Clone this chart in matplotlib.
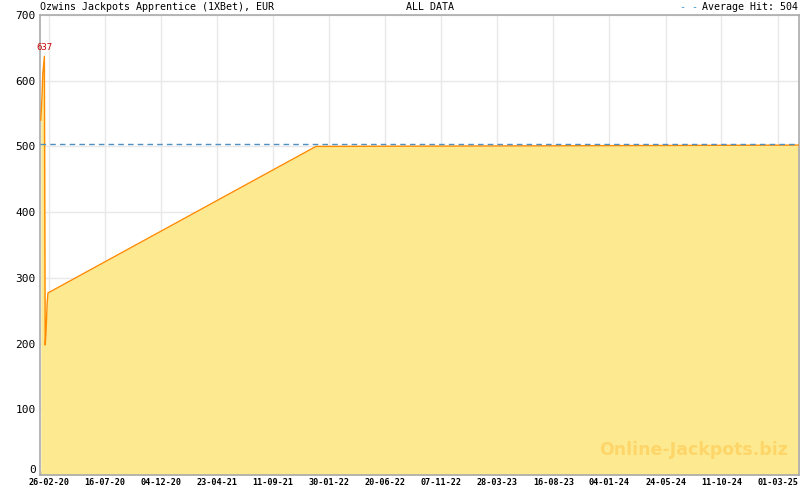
import matplotlib
matplotlib.use('Agg')
import matplotlib.pyplot as plt
import matplotlib.dates as mdates
import numpy as np
from datetime import datetime

# Jackpot values (EUR)
dates = ['2020-02-06', '2020-02-09', '2020-02-11', '2020-02-15', '2020-02-17',
         '2020-02-19', '2020-02-22', '2020-02-24', '2021-12-28', '2025-04-24']
values = [540, 575, 610, 637, 198, 215, 262, 277, 500, 502]
average_hit = 504
peak_label = '637'

tick_dates = ['26-02-20', '16-07-20', '04-12-20', '23-04-21', '11-09-21', '30-01-22',
              '20-06-22', '07-11-22', '28-03-23', '16-08-23', '04-01-24', '24-05-24',
              '11-10-24', '01-03-25']
y_ticks = [0, 100, 200, 300, 400, 500, 600, 700]

title_left = 'Ozwins Jackpots Apprentice (1XBet), EUR'
title_mid = 'ALL DATA'

x = [datetime.strptime(d, '%Y-%m-%d') for d in dates]
majors = [datetime.strptime(d, '%d-%m-%y') for d in tick_dates]

plt.rcParams['font.family'] = 'DejaVu Sans Mono'

fig = plt.figure(figsize=(8, 4.9), dpi=100)
ax = fig.add_axes([0.05, 0.0306, 0.9488, 0.9388])

line_col = '#ff8c00'
fill_col = '#fde98f'
ax.fill_between(x, values, 0, color=fill_col, linewidth=0, zorder=2)
ax.plot(x, values, color=line_col, linewidth=1.0, zorder=3)
ax.axhline(average_hit, color='#5090c0', linestyle=(0, (4, 3)), linewidth=1, zorder=4)

# peak label
ipk = int(np.argmax(values))
ax.annotate(peak_label, (x[ipk], values[ipk]), xytext=(0, 3), textcoords='offset points',
            ha='center', va='bottom', color='#cc0000', fontsize=6.5, zorder=5)

start = datetime(2020, 2, 4)
end = datetime(2025, 4, 24)
ax.set_xlim(start, end)
ax.set_ylim(0, 700)

# minor ticks: 7 per major interval
minors = []
for a, b in zip(majors[:-1], majors[1:]):
    step = (b - a) / 7
    minors += [a + step * k for k in range(1, 7)]
step = (majors[1] - majors[0]) / 7
minors += [majors[0] - step]
k = 1
while majors[-1] + step * k <= end:
    minors.append(majors[-1] + step * k)
    k += 1

ax.set_xticks(majors)
ax.set_xticks(minors, minor=True)
ax.xaxis.set_major_formatter(mdates.DateFormatter('%d-%m-%y'))
ax.set_yticks(y_ticks)

ax.tick_params(axis='x', which='major', length=5, width=1, color='#aaaaaa',
               labelsize=6.1, pad=2, direction='in')
ax.tick_params(axis='x', which='minor', length=3, width=1, color='#aaaaaa', direction='in')
ax.tick_params(axis='y', length=0, labelsize=8, pad=3)
for lbl in ax.get_xticklabels():
    lbl.set_fontweight('bold')
ax.get_yticklabels()[0].set_va('bottom')

ax.grid(True, which='major', color='#e8e8e8', linewidth=1, zorder=0)
ax.set_axisbelow(True)
for s in ax.spines.values():
    s.set_color('#aaaaaa')
    s.set_linewidth(1.2)

# titles
fig.text(0.05, 0.995, title_left, ha='left', va='top', fontsize=7.2)
fig.text(0.537, 0.995, title_mid, ha='center', va='top', fontsize=7.2)
fig.text(0.998, 0.995, 'Average Hit: %d' % average_hit, ha='right', va='top', fontsize=7.2)
fig.text(0.873, 0.995, '- -', ha='right', va='top', fontsize=7.2, color='#3399cc')

# watermark
ax.text(0.985, 0.035, 'Online-Jackpots.biz', transform=ax.transAxes, ha='right', va='bottom',
        fontsize=12.5, fontweight='bold', color='#ffc850', alpha=0.6,
        family='DejaVu Sans', zorder=6)

fig.savefig('out.png', dpi=100)
